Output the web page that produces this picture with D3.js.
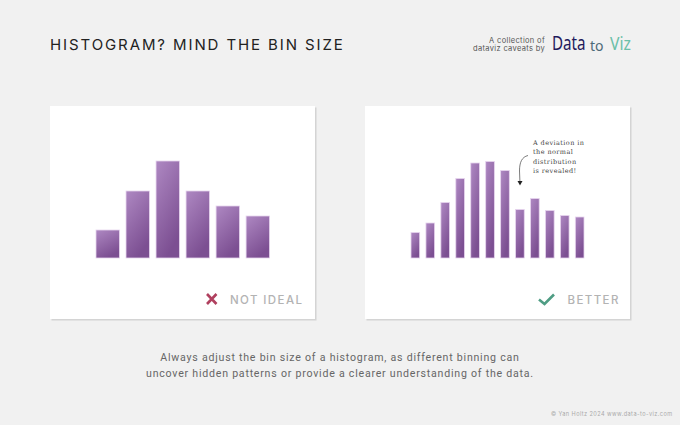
<!DOCTYPE html>
<html><head><meta charset="utf-8">
<script src="https://cdn.jsdelivr.net/npm/d3@7"></script>
<style>html,body{margin:0;padding:0;background:#f1f1f1;overflow:hidden}svg{display:block}</style>
</head><body><div id="chart"></div>
<script>
const binsCoarse = [1,2,3,4,5,6];
const countsCoarse = [28,67,97,67,52,42];
const binsFine = [1,2,3,4,5,6,7,8,9,10,11,12];
const countsFine = [25.5,35,55.5,79.5,95,96.5,87.5,48.5,59.5,47.5,42.5,41];
const titleText = "HISTOGRAM? MIND THE BIN SIZE";
const annotationLines = ["A deviation in","the normal","distribution","is revealed!"];
const captionLines = ["Always adjust the bin size of a histogram, as different binning can","uncover hidden patterns or provide a clearer understanding of the data."];

const svg = d3.select("#chart").append("svg").attr("width",680).attr("height",425);
svg.append("rect").attr("width",680).attr("height",425).attr("fill","#f1f1f1");
const defs = svg.append("defs");
const grad = defs.append("linearGradient").attr("id","bar").attr("x1","0").attr("y1","0").attr("x2","0.45").attr("y2","1");
grad.append("stop").attr("offset","0%").attr("stop-color","#ae88c2");
grad.append("stop").attr("offset","100%").attr("stop-color","#7c4f92");

// Cards
[[50,106,265,213],[365,106,265,213]].forEach(([x,y,w,h])=>{
  svg.append("rect").attr("x",x+1.5).attr("y",y+1.5).attr("width",w).attr("height",h).attr("fill","#d4d4d4");
  svg.append("rect").attr("x",x).attr("y",y).attr("width",w).attr("height",h).attr("fill","#fff");
});

const y = d3.scaleLinear().domain([0,97]).range([258,161]);
function hist(bins, counts, range, pad){
  const x = d3.scaleBand().domain(bins).range(range).paddingInner(pad);
  svg.append("g").selectAll("rect").data(bins).join("rect")
    .attr("x",d=>x(d)).attr("width",x.bandwidth())
    .attr("y",(d,i)=>y(counts[i])).attr("height",(d,i)=>y(0)-y(counts[i]))
    .attr("fill","url(#bar)").attr("stroke","#e7d4ee").attr("stroke-width",0.8);
}
hist(binsCoarse,countsCoarse,[96,269.5],0.22);
hist(binsFine,countsFine,[411,584],0.42);

// Title
svg.append("text").attr("x",50).attr("y",49.7).text(titleText)
  .attr("font-family","Inter, Lato, sans-serif").attr("font-size",15).attr("font-weight",400)
  .attr("letter-spacing",1.9).attr("fill","#222");

// Header credit
const credit = svg.append("g").attr("font-family","Inter, sans-serif").attr("font-size",7.5).attr("fill","#555")
  .attr("text-anchor","end").attr("letter-spacing",0.33);
credit.append("text").attr("x",545).attr("y",42.5).text("A collection of");
credit.append("text").attr("x",545).attr("y",50.5).text("dataviz caveats by");
svg.append("text").attr("transform","translate(552,50) scale(0.95,1.3)").text("Data")
  .attr("font-family","Noto Sans, sans-serif").attr("font-size",16).attr("fill","#1f1a5c");
svg.append("text").attr("transform","translate(590,50.5)").text("to")
  .attr("font-family","Noto Sans, sans-serif").attr("font-size",14).attr("fill","#4d6a78");
svg.append("text").attr("transform","translate(610,50) scale(1.05,1.25)").text("Viz")
  .attr("font-family","Noto Sans, sans-serif").attr("font-size",15).attr("fill","#6bbfa8");

// Annotation
const ann = svg.append("g").attr("font-family","DejaVu Serif, serif").attr("font-size",6.5).attr("fill","#444").attr("letter-spacing",0.42);
annotationLines.forEach((t,i)=>ann.append("text").attr("x",533).attr("y",144.5+i*9.6).text(t));
svg.append("path").attr("d","M528,155.5C522,157 519.5,162 519.5,171L520,184")
  .attr("fill","none").attr("stroke","#444").attr("stroke-width",0.7);
svg.append("path").attr("d",d3.line()([[517.5,181],[522.5,181],[520,185.5]])+"Z").attr("fill","#222");

// Verdicts
svg.append("path").attr("d","M207,294L216.5,304M216.5,294L207,304").attr("stroke","#b0405f").attr("stroke-width",2.6).attr("fill","none");
svg.append("path").attr("d","M539,299.5L544.5,304L554,294.5").attr("stroke","#4f9d84").attr("stroke-width",2.6).attr("fill","none");
const lab = svg.append("g").attr("font-family","Inter, sans-serif").attr("font-size",11.5).attr("font-weight",500).attr("fill","#b3b3b3").attr("letter-spacing",1.4);
lab.append("text").attr("x",230).attr("y",304).text("NOT IDEAL");
lab.append("text").attr("x",567.5).attr("y",303.5).text("BETTER");

// Caption
const cap = svg.append("g").attr("font-family","Roboto, sans-serif").attr("font-size",10.6).attr("fill","#666").attr("letter-spacing",0.77).attr("text-anchor","middle");
captionLines.forEach((t,i)=>cap.append("text").attr("x",340).attr("y",361+i*16).text(t));

svg.append("text").attr("x",672.5).attr("y",416).attr("text-anchor","end").text("© Yan Holtz 2024 www.data-to-viz.com")
  .attr("font-family","Inter, sans-serif").attr("font-size",5.6).attr("fill","#aaa").attr("letter-spacing",0.42);
</script></body></html>
